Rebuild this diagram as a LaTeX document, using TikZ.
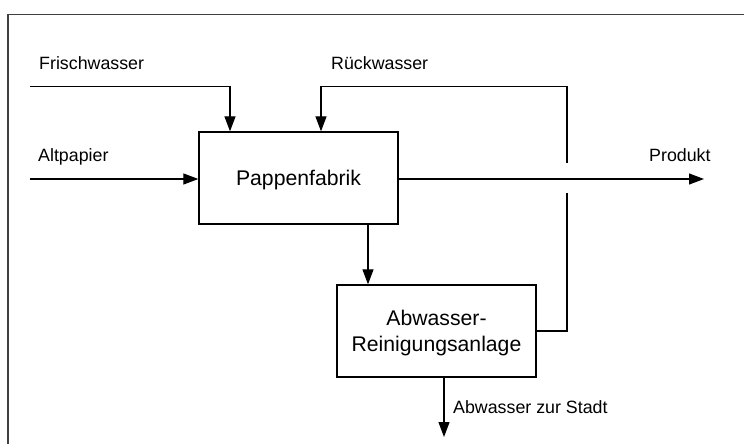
\documentclass[tikz,border=0pt]{standalone}
\usepackage{fontspec}
\setmainfont{Liberation Sans}
\usetikzlibrary{arrows.meta}
\begin{document}
\begin{tikzpicture}[x=1pt,y=-1pt,
  box/.style={draw, line width=1.3pt, minimum width=199pt, minimum height=92pt, inner sep=0pt,
    font=\fontsize{21.2}{25.7}\selectfont, align=center, text depth=0pt},
  lbl/.style={inner sep=0pt, anchor=base west, font=\fontsize{17.8}{21}\selectfont},
  flow/.style={line width=1.2pt},
  arr/.style={flow, -{Triangle[length=15pt,width=11pt]}}]
\useasboundingbox (0,0) rectangle (744,444);
\draw[black!75, line width=1.4pt] (8,450) -- (8,14.5) -- (750,14.5);

\node[box] (fab) at (298.5,178) {Pappenfabrik};
\node[box] (ara) at (436.5,331) {Abwasser-\\Reinigungsanlage};

\node[lbl] (lfw) at (39,69.5) {Frischwasser};
\node[lbl] (lrw) at (331,69.5) {Rückwasser};
\node[lbl] (lap) at (38,161.5) {Altpapier};
\node[lbl] (lpr) at (649,161.5) {Produkt};
\node[lbl] (lst) at (453,413) {Abwasser zur Stadt};

\coordinate (fwin) at (30,86.3);
\coordinate (apin) at (30,179);
\coordinate (prout) at (704,179);
\coordinate (stout) at (444,437);
\coordinate (rwbot) at (567,193);
\coordinate (rwtop) at (567,163);

% Frischwasser
\draw[arr] (fwin) -| (fab.north -| 230,0);
% Altpapier
\draw[arr] (apin) -- (fab.west |- apin);
% Produkt
\draw[arr] (fab.east |- prout) -- (prout);
% Pappenfabrik -> Abwasserreinigung
\draw[arr] (fab.south -| 368,0) -- (ara.north -| 368,0);
% Abwasser zur Stadt
\draw[arr] (ara.south -| stout) -- (stout);
% Rueckwasser loop with crossing gap
\draw[flow] (ara.east |- 0,331) -| (rwbot);
\draw[arr] (rwtop) |- (321,86.3) -- (fab.north -| 321,0);
\end{tikzpicture}
\end{document}
